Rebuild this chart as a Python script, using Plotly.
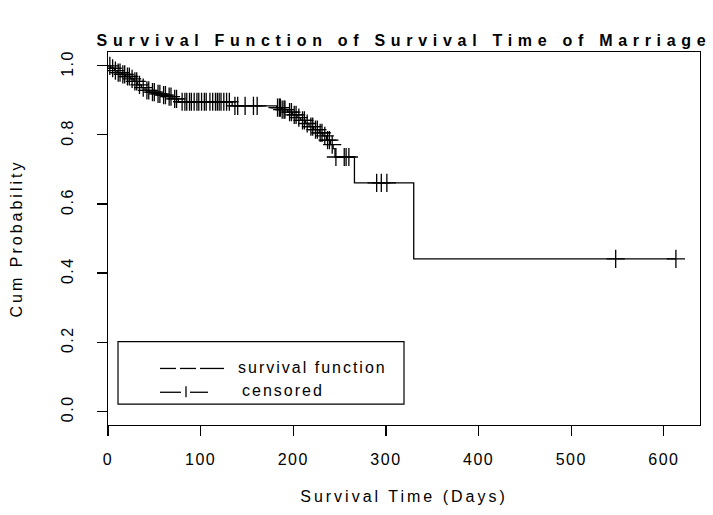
import numpy as np
import plotly.graph_objects as go

# ---- data ----
event_times = [3, 7, 10, 15, 19, 24, 28, 32, 36, 40, 45, 52, 58, 64, 70, 76,
               134, 182, 188, 194, 199, 204, 208, 213, 217, 222, 228, 232,
               236, 240, 243, 245, 266, 330]
event_surv = [0.993, 0.986, 0.980, 0.975, 0.969, 0.962, 0.955, 0.945, 0.937,
              0.929, 0.924, 0.919, 0.915, 0.911, 0.904, 0.896,
              0.884, 0.879, 0.873, 0.866, 0.858, 0.850, 0.842, 0.833, 0.824,
              0.815, 0.806, 0.797, 0.785, 0.772, 0.760, 0.736, 0.661, 0.441]
censor_times = [2, 5, 8, 11, 13, 16, 18, 21, 23, 26, 29, 31, 34, 38, 42, 44,
                48, 50, 54, 56, 60, 62, 66, 68, 72, 74,
                80, 83, 85, 88, 90, 93, 96, 98, 101, 104, 106, 110, 113, 116,
                118, 120, 122, 125, 128, 131,
                137, 140, 148, 157, 161,
                183, 185, 186, 188, 190, 191,
                196, 198, 201, 203, 206, 210, 212, 215, 219, 221, 224, 226,
                229, 231, 234, 237, 239, 242,
                246, 255, 257, 260,
                290, 295, 301,
                548, 613]
x_ticks = [0, 100, 200, 300, 400, 500, 600]
y_ticks = [0.0, 0.2, 0.4, 0.6, 0.8, 1.0]
y_ticklabels = ["0.0", "0.2", "0.4", "0.6", "0.8", "1.0"]
legend_labels = ["survival function", "censored"]

# step curve
line_x = [0] + event_times + [censor_times[-1]]
line_y = [1.0] + event_surv + [event_surv[-1]]

# survival value at each censoring time (right-continuous step function)
et = np.array(event_times)
es = np.array([1.0] + event_surv)
idx = np.searchsorted(et, np.array(censor_times), side="right")
censor_y = es[idx]

fig = go.Figure()
fig.add_trace(go.Scatter(x=line_x, y=line_y, mode="lines", line_shape="hv",
                         line=dict(color="black", width=1.3),
                         showlegend=False, hoverinfo="skip"))
fig.add_trace(go.Scatter(x=censor_times, y=censor_y, mode="markers",
                         marker=dict(symbol="cross-thin", size=13,
                                     line=dict(color="black", width=1.3)),
                         showlegend=False))

FONT = "Liberation Sans, Arial, sans-serif"
W, H = 713, 515
L, R, T, B = 108, 13, 52, 87


def px(xp):
    return (xp - L) / (W - L - R)


def py(yp):
    return (H - B - yp) / (H - T - B)


shapes = []
# legend box
shapes.append(dict(type="rect", xref="paper", yref="paper",
                   x0=px(118), x1=px(404), y0=py(407), y1=py(344),
                   line=dict(color="black", width=1.2), fillcolor="white"))
# row 1 symbol: three dashes
for a, b in [(160, 176), (180, 196), (200, 224)]:
    shapes.append(dict(type="line", xref="paper", yref="paper",
                       x0=px(a), x1=px(b), y0=py(371), y1=py(371),
                       line=dict(color="black", width=1.3)))
# row 2 symbol: dash | dash
for a, b in [(160, 181), (190, 208)]:
    shapes.append(dict(type="line", xref="paper", yref="paper",
                       x0=px(a), x1=px(b), y0=py(395), y1=py(395),
                       line=dict(color="black", width=1.3)))
shapes.append(dict(type="line", xref="paper", yref="paper",
                   x0=px(186), x1=px(186), y0=py(389), y1=py(400),
                   line=dict(color="black", width=1.3)))

annotations = [
    dict(text=legend_labels[0], xref="paper", yref="paper", x=px(312),
         y=py(370), xanchor="center", yanchor="middle", showarrow=False,
         borderpad=0, font=dict(family=FONT, size=16, color="black")),
    dict(text=legend_labels[1], xref="paper", yref="paper", x=px(283),
         y=py(393), xanchor="center", yanchor="middle", showarrow=False,
         borderpad=0, font=dict(family=FONT, size=16, color="black")),
]

axis_common = dict(showline=True, mirror=True, linecolor="black", linewidth=1.2,
                   ticks="outside", ticklen=10, tickwidth=1.2, tickcolor="black",
                   showgrid=False, zeroline=False,
                   tickfont=dict(family=FONT, size=16, color="black"))

fig.update_layout(
    width=W, height=H,
    margin=dict(l=L, r=R, t=T, b=B),
    paper_bgcolor="white", plot_bgcolor="white",
    title=dict(text="<b>Survival Function of Survival Time of Marriage</b>",
               x=0.5, xref="paper", y=1 - 40 / H, yref="container",
               xanchor="center", yanchor="middle",
               font=dict(family=FONT, size=16, color="black")),
    xaxis=dict(range=[0, 639], tickvals=x_ticks,
               title=dict(text="Survival Time (Days)", standoff=23,
                          font=dict(family=FONT, size=16, color="black")),
               ticklabelstandoff=10, **axis_common),
    yaxis=dict(range=[-0.04, 1.04], tickvals=y_ticks, ticktext=y_ticklabels,
               tickangle=-90,
               title=dict(text="Cum Probability", standoff=32,
                          font=dict(family=FONT, size=16, color="black")),
               ticklabelstandoff=17, **axis_common),
    shapes=shapes, annotations=annotations,
    showlegend=False,
)

# page styling: no body margin, R-like wide letter spacing
css = ("var s=document.createElement('style');"
       "s.innerHTML='body{margin:0;padding:0;overflow:hidden}"
       ".gtitle{letter-spacing:5.7px}"
       ".xtick text,.ytick text{letter-spacing:1.5px}"
       ".xtitle,.ytitle{letter-spacing:3px}"
       ".annotation-text{letter-spacing:2px}"
       ".modebar-container{display:none}';"
       "document.head.appendChild(s);")

fig.write_html("out.html", post_script=css,
               config={"displayModeBar": False, "staticPlot": True})
